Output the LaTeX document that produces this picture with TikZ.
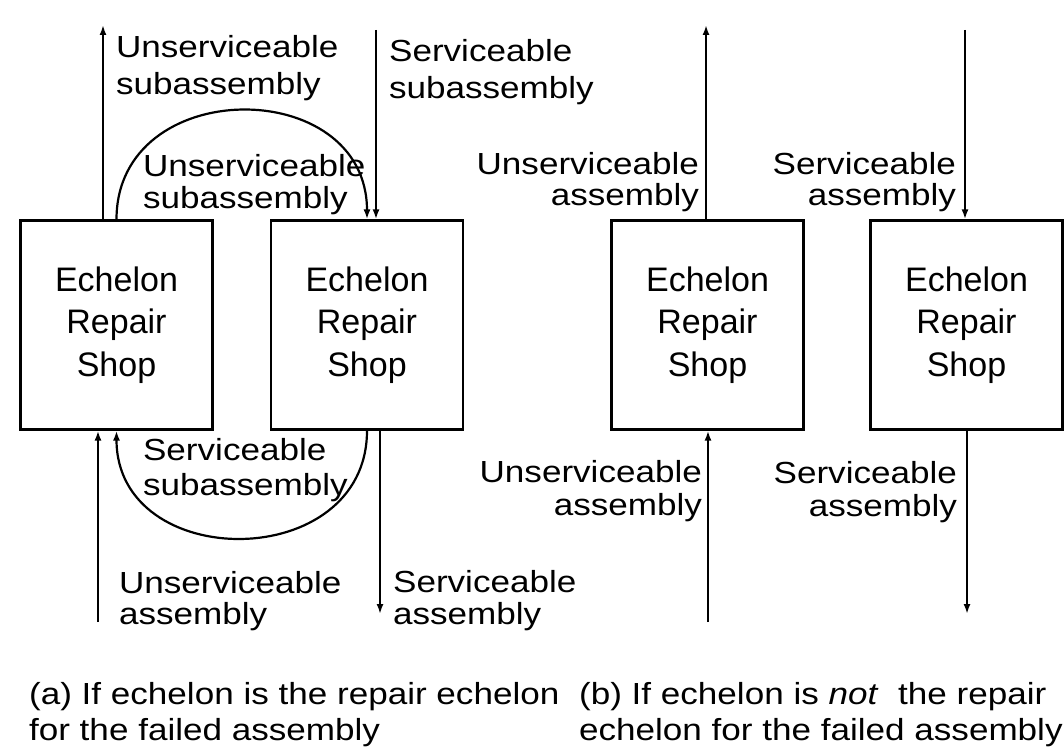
\documentclass[tikz,border=0pt]{standalone}
\usepackage{fontspec}
\setmainfont{Liberation Sans}
\newfontfamily\lblfont{Liberation Sans}[FakeStretch=1.15]
\usetikzlibrary{arrows.meta}
\begin{document}
\begin{tikzpicture}[x=1pt,y=-1pt,
  line width=2.2pt,
  shop/.style={draw, minimum width=192pt, minimum height=209pt, align=center,
    inner sep=0pt, font=\fontsize{34}{42.5}\selectfont},
  lbl/.style={inner sep=0pt, font=\lblfont\fontsize{30.5}{35}\selectfont},
  lblL/.style={lbl, anchor=base west, align=left},
  lblR/.style={lbl, anchor=base east, align=right},
  flow/.style={-{Latex[length=10pt,width=7pt]}}]
\useasboundingbox (0,0) rectangle (1064,749);

% repair shops
\node[shop] (a1) at (116.5,325) {Echelon\\Repair\\Shop};
\node[shop] (a2) at (367,325) {Echelon\\Repair\\Shop};
\node[shop] (b1) at (707.5,325) {Echelon\\Repair\\Shop};
\node[shop] (b2) at (966.5,325) {Echelon\\Repair\\Shop};

% free ends of the vertical flows
\coordinate (a1out) at (103,25);
\coordinate (a2in)  at (376,30);
\coordinate (a1in)  at (98,622);
\coordinate (a2out) at (380,614);
\coordinate (b1out) at (706,25);
\coordinate (b2in)  at (965,30);
\coordinate (b1in)  at (708,622);
\coordinate (b2out) at (967,614);

% (a) repair echelon
\draw[flow] (a1out |- a1.north) -- (a1out);
\draw[flow] (a2in) -- (a2in |- a2.north);
\draw[flow] (a1in) -- (a1in |- a1.south);
\draw[flow] (a2out |- a2.south) -- (a2out);
\draw[flow] (a1.north) .. controls +(0,-145) and +(0,-145) .. (a2.north);
\draw[flow] (a2.south) .. controls +(0,143) and +(0,143) .. (a1.south);

% (b) not the repair echelon
\draw[flow] (b1out |- b1.north) -- (b1out);
\draw[flow] (b2in) -- (b2in |- b2.north);
\draw[flow] (b1in) -- (b1in |- b1.south);
\draw[flow] (b2out |- b2.south) -- (b2out);

% flow labels (placed by the baseline of their last line)
\node[lblL, font=\lblfont\fontsize{30.5}{37}\selectfont] (l1) at (115,95) {Unserviceable\\subassembly};
\node[lblL, font=\lblfont\fontsize{30.5}{37}\selectfont] (l2) at (388,99) {Serviceable\\subassembly};
\node[lblL, font=\lblfont\fontsize{30.5}{32}\selectfont] (l3) at (142,208) {Unserviceable\\subassembly};
\node[lblL] (l4) at (142,495) {Serviceable\\subassembly};
\node[lblL, font=\lblfont\fontsize{30.5}{31}\selectfont] (l5) at (118,624) {Unserviceable\\assembly};
\node[lblL, font=\lblfont\fontsize{30.5}{32}\selectfont] (l6) at (392,624) {Serviceable\\assembly};
\node[lblR, font=\lblfont\fontsize{30.5}{31}\selectfont] (l7) at (700,205) {Unserviceable\\assembly};
\node[lblR, font=\lblfont\fontsize{30.5}{31}\selectfont] (l8) at (957,205) {Serviceable\\assembly};
\node[lblR, font=\lblfont\fontsize{30.5}{33}\selectfont] (l9) at (703,515) {Unserviceable\\assembly};
\node[lblR, font=\lblfont\fontsize{30.5}{33}\selectfont] (l10) at (958,516) {Serviceable\\assembly};

% captions
\node[lblL, font=\lblfont\fontsize{30.5}{36}\selectfont] (capa) at (28,740) {(a) If echelon is the repair echelon\\for the failed assembly};
\node[lblL, font=\lblfont\fontsize{30.5}{36}\selectfont] (capb) at (578,740) {(b) If echelon is \textit{not}\ \ the repair\\echelon for the failed assembly};
\end{tikzpicture}
\end{document}
